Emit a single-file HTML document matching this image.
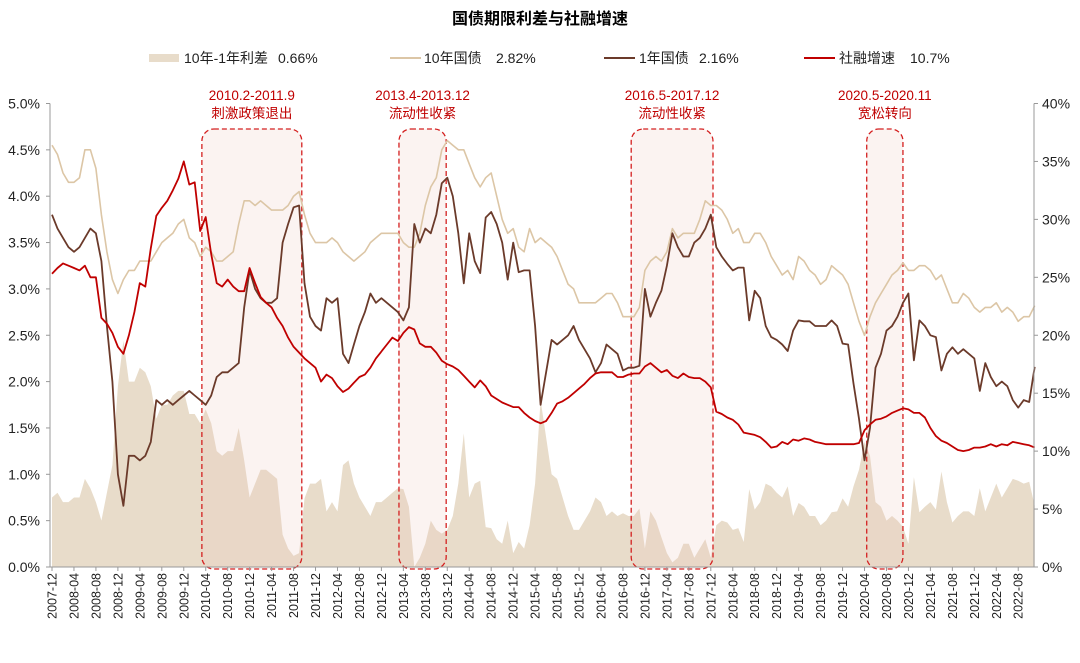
<!DOCTYPE html>
<html><head><meta charset="utf-8"><style>
html,body{margin:0;padding:0;background:#fff;}
svg{display:block;font-family:"Liberation Sans","Noto Sans CJK SC",sans-serif;}
</style></head><body>
<svg id="chart" width="1080" height="663" viewBox="0 0 1080 663" xmlns="http://www.w3.org/2000/svg">
<text x="540" y="24" text-anchor="middle" font-size="16" font-weight="bold" fill="#000">国债期限利差与社融增速</text>
<g font-size="14" fill="#222">
<g><rect x="149" y="54" width="30" height="8" fill="#e8dcca"/><text x="184" y="63">10年-1年利差</text><text x="278" y="63">0.66%</text></g>
<g><line x1="390" y1="58" x2="421" y2="58" stroke="#dcc6a6" stroke-width="2"/><text x="424" y="63">10年国债</text><text x="496" y="63">2.82%</text></g>
<g><line x1="604" y1="58" x2="635" y2="58" stroke="#6b3a2a" stroke-width="2"/><text x="639" y="63">1年国债</text><text x="699" y="63">2.16%</text></g>
<g><line x1="804" y1="58" x2="835" y2="58" stroke="#c00000" stroke-width="2"/><text x="839" y="63">社融增速</text><text x="910" y="63">10.7%</text></g>
</g>
<g id="plot"></g>
</svg>
<script>
const startYear = 2007, startMonth = 12;
const ten = [4.55,
4.45,4.25,4.15,4.15,4.2,4.5,4.5,4.3,3.8,3.4,3.1,2.95,
3.1,3.2,3.2,3.3,3.3,3.3,3.4,3.5,3.55,3.6,3.7,3.75,
3.55,3.5,3.35,3.45,3.4,3.3,3.3,3.35,3.4,3.7,3.95,3.95,
3.9,3.95,3.9,3.85,3.85,3.85,3.9,4.0,4.05,3.8,3.6,3.5,
3.5,3.5,3.55,3.5,3.4,3.35,3.3,3.35,3.4,3.5,3.55,3.6,
3.6,3.6,3.6,3.5,3.45,3.45,3.6,3.9,4.1,4.2,4.5,4.6,
4.55,4.5,4.5,4.35,4.2,4.1,4.2,4.25,4.0,3.75,3.6,3.65,
3.45,3.4,3.65,3.5,3.55,3.5,3.45,3.35,3.2,3.05,3.0,2.85,
2.85,2.85,2.85,2.9,2.95,2.95,2.85,2.7,2.7,2.7,2.8,3.2,
3.3,3.35,3.3,3.4,3.65,3.55,3.6,3.6,3.6,3.75,3.95,3.9,
3.9,3.85,3.75,3.6,3.65,3.5,3.5,3.6,3.6,3.5,3.35,3.25,
3.15,3.2,3.1,3.35,3.3,3.2,3.15,3.05,3.1,3.25,3.2,3.15,
3.05,2.85,2.65,2.5,2.7,2.85,2.95,3.05,3.15,3.2,3.28,3.2,
3.2,3.25,3.25,3.2,3.1,3.15,3.0,2.85,2.85,2.95,2.9,2.8,
2.75,2.8,2.8,2.85,2.75,2.8,2.75,2.65,2.7,2.7,2.82];
const one = [3.8,
3.65,3.55,3.45,3.4,3.45,3.55,3.65,3.6,3.3,2.6,2.0,1.0,
0.66,1.2,1.2,1.15,1.2,1.35,1.8,1.75,1.8,1.75,1.8,1.85,
1.9,1.85,1.8,1.75,1.85,2.05,2.1,2.1,2.15,2.2,2.8,3.2,
3.0,2.9,2.85,2.85,2.9,3.5,3.7,3.88,3.9,3.06,2.7,2.6,
2.55,2.9,2.85,2.9,2.3,2.2,2.4,2.6,2.75,2.95,2.85,2.9,
2.85,2.8,2.75,2.66,2.8,3.7,3.5,3.65,3.6,3.8,4.14,4.2,
4.0,3.6,3.06,3.6,3.3,3.17,3.77,3.83,3.7,3.5,3.1,3.5,
3.18,3.2,3.2,2.6,1.75,2.1,2.45,2.4,2.45,2.5,2.6,2.45,
2.35,2.25,2.1,2.2,2.4,2.35,2.3,2.12,2.15,2.15,2.17,3.0,
2.7,2.85,2.98,3.25,3.6,3.45,3.35,3.35,3.5,3.55,3.65,3.8,
3.45,3.35,3.27,3.2,3.23,3.23,2.66,2.98,2.9,2.6,2.48,2.45,
2.4,2.33,2.55,2.66,2.65,2.65,2.6,2.6,2.6,2.66,2.6,2.41,
2.4,1.98,1.6,1.15,1.5,2.15,2.3,2.55,2.6,2.7,2.85,2.95,
2.23,2.66,2.6,2.5,2.48,2.12,2.3,2.37,2.3,2.35,2.3,2.25,
1.9,2.2,2.05,1.95,2.0,1.95,1.8,1.72,1.8,1.78,2.16];
const tsf = [25.3,
25.8,26.2,26.0,25.8,25.6,26.0,25.0,25.0,21.5,21.0,20.2,19.0,
18.4,20.0,22.0,24.5,24.2,27.5,30.3,31.0,31.6,32.5,33.5,35.0,
33.0,33.2,29.0,30.2,27.0,24.5,24.2,24.8,24.2,23.8,23.8,25.8,
24.5,23.3,22.8,22.4,21.5,20.8,19.8,19.0,18.5,18.0,17.6,17.2,
16.0,16.6,16.3,15.6,15.1,15.4,15.9,16.4,16.6,17.2,18.0,18.6,
19.2,19.8,19.5,20.2,20.7,20.5,19.3,19.0,19.0,18.5,17.8,17.5,
17.3,17.0,16.5,16.0,15.5,16.1,15.6,14.8,14.5,14.2,14.0,13.8,
13.8,13.3,12.9,12.6,12.4,12.6,13.3,14.1,14.3,14.6,15.0,15.4,
15.8,16.3,16.7,16.8,16.8,16.8,16.4,16.4,16.6,16.7,16.7,17.3,
17.6,17.2,16.8,17.0,16.5,16.3,16.7,16.4,16.3,16.3,16.0,15.5,
13.4,13.2,12.9,12.7,12.3,11.6,11.5,11.4,11.2,10.8,10.3,10.4,
10.8,10.6,11.0,10.9,11.1,11.0,10.8,10.7,10.6,10.6,10.6,10.6,
10.6,10.6,10.7,11.8,12.3,12.7,12.8,13.0,13.3,13.5,13.7,13.6,
13.3,13.3,12.9,12.0,11.3,10.9,10.7,10.4,10.1,10.0,10.1,10.3,
10.3,10.4,10.6,10.4,10.6,10.5,10.8,10.7,10.6,10.5,10.3];
const leftTicks = ["0.0%","0.5%","1.0%","1.5%","2.0%","2.5%","3.0%","3.5%","4.0%","4.5%","5.0%"];
const rightTicks = ["0%","5%","10%","15%","20%","25%","30%","35%","40%"];
const boxStart = [27.3, 63.2, 105.5, 148.4];
const boxEnd = [45.5, 71.8, 120.4, 155.0];
const boxLabel1 = ["2010.2-2011.9","2013.4-2013.12","2016.5-2017.12","2020.5-2020.11"];
const boxLabel2 = ["刺激政策退出","流动性收紧","流动性收紧","宽松转向"];
const NS="http://www.w3.org/2000/svg";
const X0=52, DX=5.49, Y0=567, YTOP=103.5;
const xS = m => X0 + m*DX;
const yL = v => Y0 - v/5*(Y0-YTOP);
const yR = v => Y0 - v/40*(Y0-YTOP);
const plot=document.getElementById("plot");
function el(t,a,p){const e=document.createElementNS(NS,t);for(const k in a)e.setAttribute(k,a[k]);(p||plot).appendChild(e);return e;}

let d="M"+xS(0)+","+Y0;
ten.forEach((v,i)=>{d+="L"+xS(i).toFixed(1)+","+yL(Math.max(0,v-one[i])).toFixed(1);});
d+="L"+xS(ten.length-1)+","+Y0+"Z";
const area=el("path",{d:d,fill:"#e8dcca"});



boxStart.forEach((s,i)=>{
 const x1=xS(s), x2=xS(boxEnd[i]);
 const r=el("rect",{x:x1,y:129,width:x2-x1,height:440,rx:12,fill:"rgba(235,200,190,0.22)",stroke:"#d42020","stroke-width":1.3,"stroke-dasharray":"5,3"});
 
 
 const cx=(x1+x2)/2;
 const t1=el("text",{x:cx,y:100,"text-anchor":"middle","font-size":13.5,fill:"#c00000"});t1.textContent=boxLabel1[i];
 
 
 const t2=el("text",{x:cx,y:118,"text-anchor":"middle","font-size":13.5,fill:"#c00000"});t2.textContent=boxLabel2[i];
 
 
});

function line(arr,sc,color,name,w){
 const pts=arr.map((v,i)=>xS(i).toFixed(1)+","+sc(v).toFixed(1)).join(" ");
 const pl=el("polyline",{points:pts,fill:"none",stroke:color,"stroke-width":w,"stroke-linejoin":"round"});
 
 
}
line(ten,yL,"#dcc6a6","line-10y-yield",1.6);
line(one,yL,"#6b3a2a","line-1y-yield",1.8);
line(tsf,yR,"#c00000","line-tsf-growth",1.8);

const ax=el("g",{stroke:"#999","stroke-width":1});


el("line",{x1:50,y1:YTOP,x2:50,y2:Y0},ax);
el("line",{x1:1034,y1:YTOP,x2:1034,y2:Y0},ax);
el("line",{x1:50,y1:Y0,x2:1034,y2:Y0},ax);
leftTicks.forEach((t,i)=>{
 const y=yL(i*0.5);
 el("line",{x1:46,y1:y,x2:50,y2:y},ax);
 const tx=el("text",{x:40,y:y+5,"text-anchor":"end","font-size":14,fill:"#222"});tx.textContent=t;
 
 
});
rightTicks.forEach((t,i)=>{
 const y=yR(i*5);
 el("line",{x1:1034,y1:y,x2:1038,y2:y},ax);
 const tx=el("text",{x:1042,y:y+5,"font-size":14,fill:"#222"});tx.textContent=t;
 
 
});
for(let m=0;m<=176;m+=4){
 const x=xS(m);
 el("line",{x1:x,y1:Y0,x2:x,y2:Y0+4},ax);
 const tot=startMonth-1+m, yr=startYear+Math.floor(tot/12), mo=tot%12+1;
 const lbl=yr+"-"+String(mo).padStart(2,"0");
 const tx=el("text",{x:0,y:0,transform:"translate("+(x+4.5)+","+(Y0+6)+") rotate(-90)","text-anchor":"end","font-size":12.5,fill:"#222"});
 tx.textContent=lbl;
 
 
}
</script>
</body></html>
